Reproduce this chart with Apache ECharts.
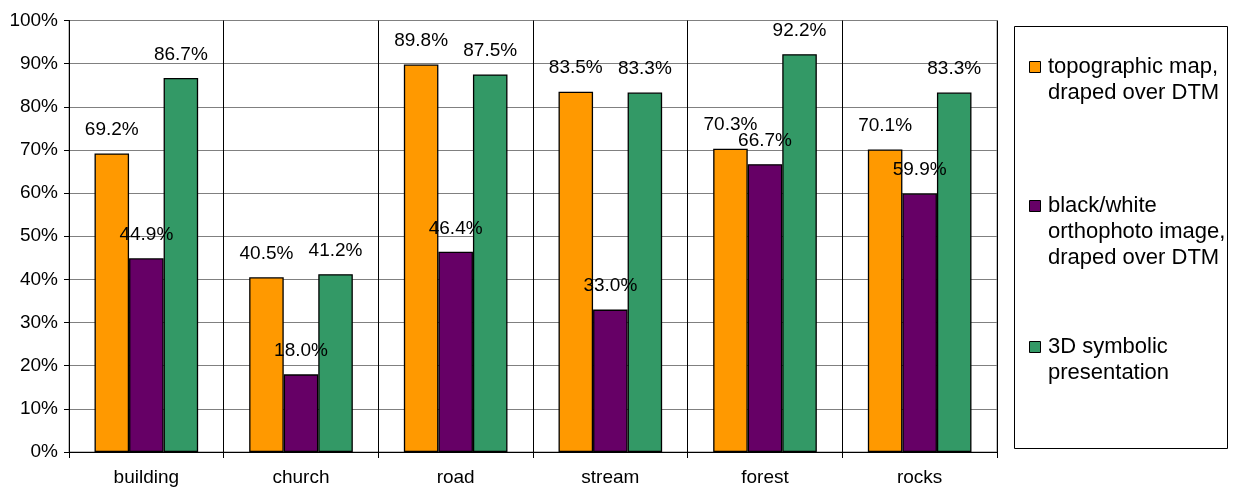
<!DOCTYPE html>
<html>
<head>
<meta charset="utf-8">
<title>Recognition rate by object type</title>
<script src="https://cdn.jsdelivr.net/npm/echarts@6/dist/echarts.min.js"></script>
<style>
  html, body { margin: 0; padding: 0; background: #fff; }
  #chart { width: 1233px; height: 487px; }
</style>
</head>
<body>
<div id="chart"></div>
<script>
// Categories and the three presentation methods (values in percent)
const categories = ['building', 'church', 'road', 'stream', 'forest', 'rocks'];
const topoMap = [69.2, 40.5, 89.8, 83.5, 70.3, 70.1];
const orthophoto = [44.9, 18.0, 46.4, 33.0, 66.7, 59.9];
const symbolic3d = [86.7, 41.2, 87.5, 83.3, 92.2, 83.3];
const yTicks = { min: 0, max: 100, step: 10 };

const seriesNames = [
  'topographic map,\ndraped over DTM',
  'black/white\northophoto image,\ndraped over DTM',
  '3D symbolic\npresentation'
];
const seriesData = [topoMap, orthophoto, symbolic3d];
const colors = ['#FF9900', '#660066', '#339966'];

const FONT = '"Liberation Sans", Arial, sans-serif';
const chart = echarts.init(document.getElementById('chart'), null, { renderer: 'canvas' });

// Legend drawn as a framed box with one square swatch per series,
// aligned with the first line of each (multi-line) name.
const legendBox = { x: 1014.5, y: 26.5, w: 213, h: 422 };
const legendRows = [67, 206, 347];
const legendGraphics = [{
  type: 'rect',
  shape: { x: legendBox.x, y: legendBox.y, width: legendBox.w, height: legendBox.h },
  style: { fill: '#fff', stroke: '#000', lineWidth: 1 },
  z: 10
}];
seriesNames.forEach((name, i) => {
  legendGraphics.push({
    type: 'rect',
    shape: { x: 1029.5, y: legendRows[i] - 5.5, width: 11, height: 11 },
    style: { fill: colors[i], stroke: '#000', lineWidth: 1 },
    z: 11
  });
  legendGraphics.push({
    type: 'text',
    x: 1048,
    y: legendRows[i] - 13,
    style: {
      text: name,
      font: '22px ' + FONT,
      fill: '#000',
      lineHeight: 26,
      verticalAlign: 'top'
    },
    z: 11
  });
});

chart.setOption({
  backgroundColor: '#fff',
  animation: false,
  textStyle: { fontFamily: FONT },
  grid: {
    left: 69, right: 236, top: 20.5, bottom: 35,
    show: true, borderColor: '#808080', borderWidth: 1, backgroundColor: 'transparent'
  },
  xAxis: {
    type: 'category',
    data: categories,
    boundaryGap: true,
    axisLine: { show: true, lineStyle: { color: '#000', width: 1 } },
    axisTick: { show: true, length: 6, lineStyle: { color: '#000' } },
    axisLabel: { color: '#000', fontSize: 19, fontFamily: FONT, margin: 16 },
    splitLine: { show: true, lineStyle: { color: '#000', width: 1 } }
  },
  yAxis: {
    type: 'value',
    min: yTicks.min,
    max: yTicks.max,
    interval: yTicks.step,
    axisLine: { show: true, lineStyle: { color: '#000', width: 1 } },
    axisTick: { show: true, length: 5, lineStyle: { color: '#000' } },
    axisLabel: { color: '#000', fontSize: 19, fontFamily: FONT, margin: 11, formatter: '{value}%' },
    splitLine: { show: true, lineStyle: { color: '#808080', width: 1 } }
  },
  series: seriesData.map((data, i) => ({
    type: 'bar',
    name: seriesNames[i],
    data: data,
    barGap: '0%',
    barCategoryGap: '33%',
    itemStyle: { color: colors[i], borderColor: '#000', borderWidth: 1.3 },
    label: {
      show: true,
      position: 'top',
      distance: 14,
      color: '#000',
      fontSize: 19,
      fontFamily: FONT,
      formatter: p => p.value.toFixed(1) + '%'
    }
  })),
  graphic: legendGraphics
});
</script>
</body>
</html>
